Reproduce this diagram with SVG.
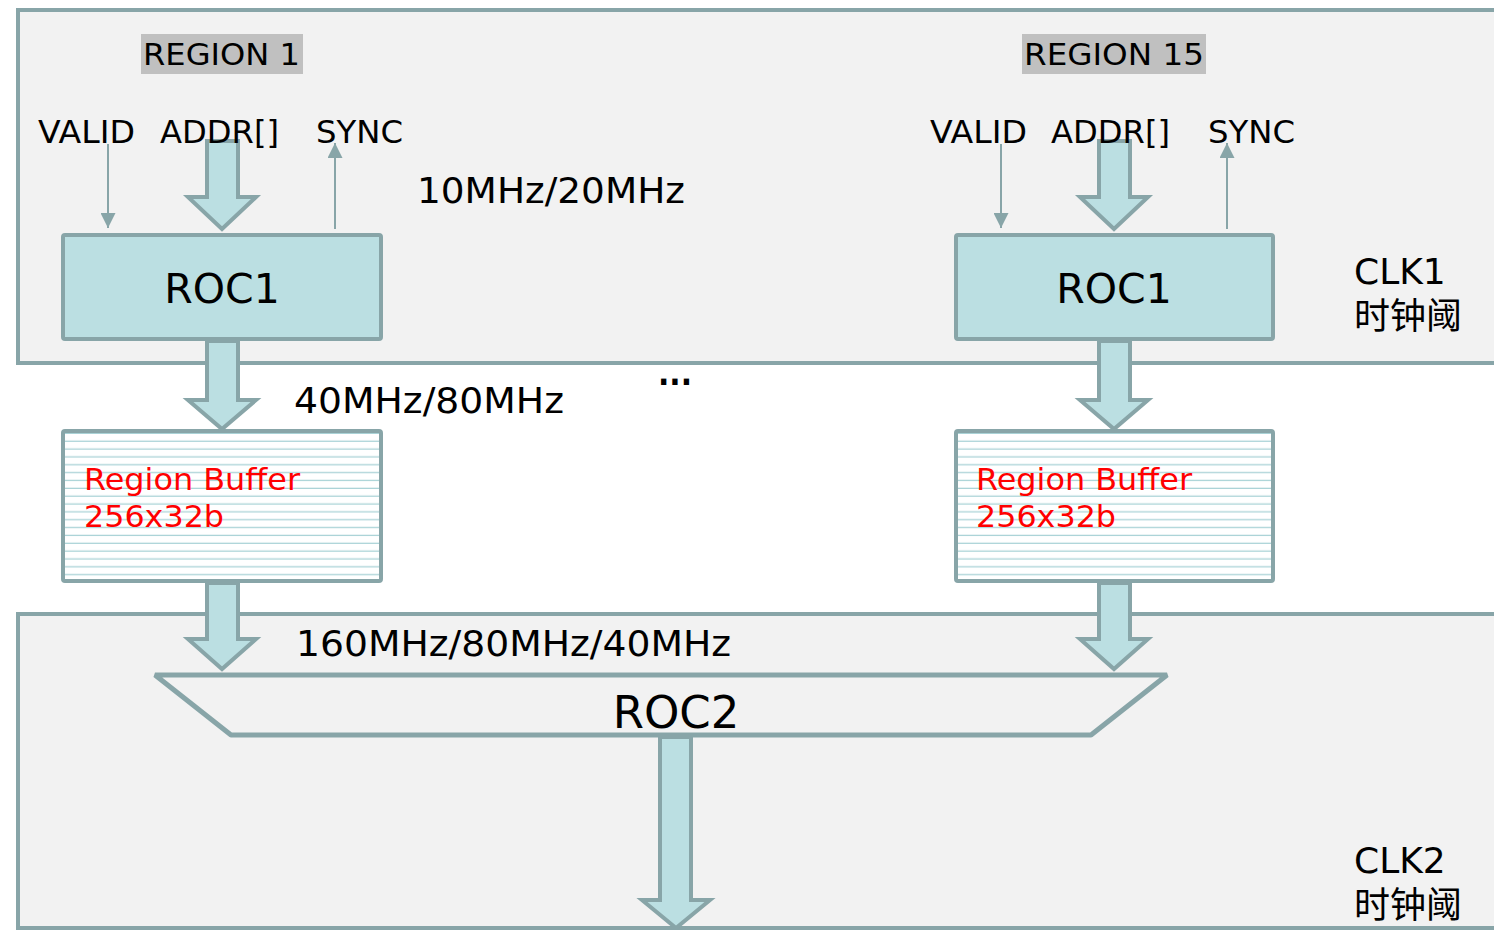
<svg xmlns="http://www.w3.org/2000/svg" width="1494" height="930" viewBox="0 0 1494 930">
<style>
.panel{fill:#f2f2f2;stroke:#88a5a8;stroke-width:4}
.box{fill:#bbdfe2;stroke:#88a5a8;stroke-width:4}
.buf{fill:url(#hatch);stroke:#88a5a8;stroke-width:4}
.barrow{fill:#bbdfe2;stroke:#88a5a8;stroke-width:4;stroke-linejoin:miter}
.thin{stroke:#88a5a8;stroke-width:2;fill:none}
.t{font-family:"DejaVu Sans","Noto Sans CJK SC",sans-serif;fill:#000}
.red{font-family:"DejaVu Sans",sans-serif;fill:#ff0000;font-size:31px}
.hdr{fill:#c0c0c0}
</style>
<defs>
<pattern id="hatch" patternUnits="userSpaceOnUse" x="0" y="434" width="20" height="7.85">
<rect width="20" height="7.85" fill="#ffffff"/>
<rect y="6.6" width="20" height="1.3" fill="#a8d2d6"/>
</pattern>
<marker id="ah" viewBox="0 0 10 10" refX="10" refY="5" markerWidth="7.5" markerHeight="7.5" orient="auto" markerUnits="strokeWidth">
<path d="M0,0 L10,5 L0,10 Z" fill="#88a5a8"/>
</marker>
</defs>

<g id="panel-clk1"><rect class="panel" x="18" y="10" width="1500" height="353"/></g>
<g id="panel-clk2"><rect class="panel" x="18" y="614" width="1500" height="314"/></g>

<g id="connectors">
<line class="thin" x1="108" y1="144" x2="108" y2="228" marker-end="url(#ah)"/>
<line class="thin" x1="335" y1="229" x2="335" y2="143" marker-end="url(#ah)"/>
<line class="thin" x1="1001" y1="144" x2="1001" y2="228" marker-end="url(#ah)"/>
<line class="thin" x1="1227" y1="229" x2="1227" y2="143" marker-end="url(#ah)"/>
<polygon class="barrow" points="207,141 238,141 238,197 256,197 222,229 188,197 207,197"/>
<polygon class="barrow" points="1099,141 1130,141 1130,197 1148,197 1114,229 1080,197 1099,197"/>
<polygon class="barrow" points="207,341 238,341 238,400 256,400 222,429 188,400 207,400"/>
<polygon class="barrow" points="1099,341 1130,341 1130,400 1148,400 1114,429 1080,400 1099,400"/>
<polygon class="barrow" points="207,583 238,583 238,639 256,639 222,669 188,639 207,639"/>
<polygon class="barrow" points="1099,583 1130,583 1130,639 1148,639 1114,669 1080,639 1099,639"/>
<polygon class="barrow" points="660,737 691,737 691,900 710,900 676,928 642,900 660,900"/>
</g>

<g id="region1-label"><rect class="hdr" x="141" y="34" width="162" height="40"/><text class="t" x="143" y="65" font-size="31" textLength="157" lengthAdjust="spacingAndGlyphs">REGION 1</text></g>
<g id="region15-label"><rect class="hdr" x="1022" y="34" width="184" height="40"/><text class="t" x="1024" y="65" font-size="31" textLength="180" lengthAdjust="spacingAndGlyphs">REGION 15</text></g>

<g id="signals-1">
<text class="t" x="38" y="143" font-size="32" textLength="97" lengthAdjust="spacingAndGlyphs">VALID</text>
<text class="t" x="160" y="143" font-size="32" textLength="119" lengthAdjust="spacingAndGlyphs">ADDR[]</text>
<text class="t" x="316" y="143" font-size="32" textLength="87" lengthAdjust="spacingAndGlyphs">SYNC</text>
</g>
<g id="signals-15">
<text class="t" x="930" y="143" font-size="32" textLength="97" lengthAdjust="spacingAndGlyphs">VALID</text>
<text class="t" x="1051" y="143" font-size="32" textLength="119" lengthAdjust="spacingAndGlyphs">ADDR[]</text>
<text class="t" x="1208" y="143" font-size="32" textLength="87" lengthAdjust="spacingAndGlyphs">SYNC</text>
</g>

<g id="roc1-a"><rect class="box" x="63" y="235" width="318" height="104" rx="2"/><text class="t" x="222" y="303" font-size="41" text-anchor="middle">ROC1</text></g>
<g id="roc1-b"><rect class="box" x="956" y="235" width="317" height="104" rx="2"/><text class="t" x="1114" y="303" font-size="41" text-anchor="middle">ROC1</text></g>

<g id="buffer-a"><rect class="buf" x="63" y="431" width="318" height="150" rx="2"/><text class="red" x="84" y="490" textLength="216" lengthAdjust="spacingAndGlyphs">Region Buffer</text><text class="red" x="84" y="527" textLength="140" lengthAdjust="spacingAndGlyphs">256x32b</text></g>
<g id="buffer-b"><rect class="buf" x="956" y="431" width="317" height="150" rx="2"/><text class="red" x="976" y="490" textLength="216" lengthAdjust="spacingAndGlyphs">Region Buffer</text><text class="red" x="976" y="527" textLength="140" lengthAdjust="spacingAndGlyphs">256x32b</text></g>

<g id="roc2"><polygon points="155,675 1167,675 1091,735 231,735" fill="#f2f2f2" stroke="#88a5a8" stroke-width="5" stroke-linejoin="bevel"/><text class="t" x="676" y="728" font-size="45" text-anchor="middle">ROC2</text></g>

<g id="freq-labels">
<text class="t" x="417" y="203" font-size="36" textLength="268" lengthAdjust="spacingAndGlyphs">10MHz/20MHz</text>
<text class="t" x="294" y="413" font-size="36" textLength="270" lengthAdjust="spacingAndGlyphs">40MHz/80MHz</text>
<text class="t" x="296" y="656" font-size="36" textLength="435" lengthAdjust="spacingAndGlyphs">160MHz/80MHz/40MHz</text>
<text class="t" x="658" y="385" font-size="34" font-weight="bold" textLength="34" lengthAdjust="spacingAndGlyphs">...</text>
</g>

<g id="clk1"><text class="t" x="1354" y="284" font-size="36">CLK1</text><text class="t" x="1354" y="329" font-size="36">时钟阈</text></g>
<g id="clk2"><text class="t" x="1354" y="873" font-size="36">CLK2</text><text class="t" x="1354" y="918" font-size="36">时钟阈</text></g>
</svg>
